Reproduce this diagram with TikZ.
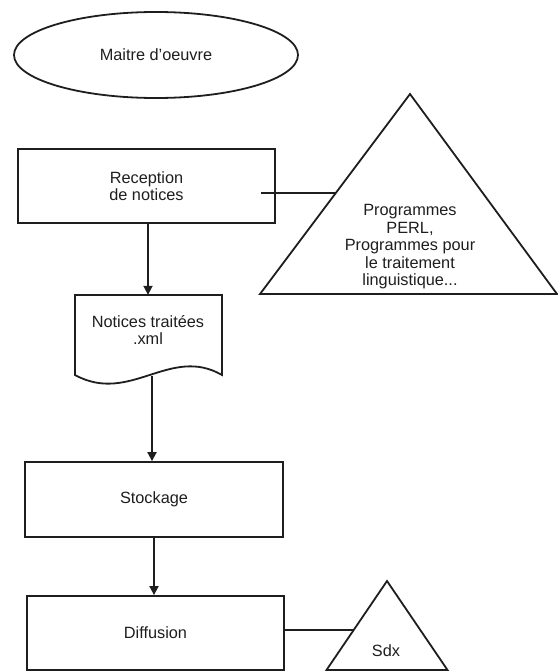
\documentclass[tikz,border=0pt]{standalone}
\usepackage{fontspec}
\setmainfont{Liberation Sans}
\usetikzlibrary{shapes.geometric,arrows.meta}
\definecolor{ink}{HTML}{1E1E1E}
\begin{document}
\begin{tikzpicture}[x=1pt,y=-1pt,
  every node/.style={font=\fontsize{16.3}{17.5}\selectfont, text=ink, align=center, inner sep=0pt},
  shapeline/.style={draw=ink, line width=1.8pt},
  procbox/.style={shapeline, rectangle, minimum width=257pt, minimum height=74pt},
  flowarrow/.style={draw=ink, line width=1.8pt, -{Triangle[length=9pt,width=9pt]}},
  plainline/.style={draw=ink, line width=1.8pt}]
\useasboundingbox (0,0) rectangle (557,672);
% ellipse
\node[shapeline, ellipse, minimum width=284pt, minimum height=86pt] (moe) at (156,55) {Maitre d'oeuvre};
% reception
\node[procbox] (rec) at (146.5,186) {Reception\\de notices};
% big triangle
\draw[shapeline, line join=miter] (410,94) -- (557,294) -- (260,294) -- cycle;
\node (tri1) at (410,247) {Programmes\\PERL,\\Programmes pour\\le traitement\\linguistique...};
\coordinate (t1L) at (335.75,193);
\draw[plainline, shorten <=-15pt] (rec.east |- t1L) -- (t1L);
% document
\draw[shapeline, line join=miter] (75,295) -- (222,295) -- (222,375)
  .. controls (170,345) and (130,405) .. (75,375) -- cycle;
\node[minimum width=147pt, minimum height=70pt] (doc) at (148,330) {Notices traitées\\.xml};
\coordinate (docb) at (152,376);
\draw[flowarrow] (rec.south) ++(1.5,0) coordinate (recs) -- (recs |- doc.north);
% stockage
\node[procbox, minimum width=258pt, minimum height=75pt] (sto) at (154,499.5) {Stockage};
\draw[flowarrow] (docb) -- (docb |- sto.north);
% diffusion
\node[procbox] (dif) at (155.5,633) {Diffusion};
\draw[flowarrow] (sto.south) -- (sto.south |- dif.north);
% small triangle
\draw[shapeline, line join=miter] (387,581) -- (447.5,670) -- (326.5,670) -- cycle;
\node (tri2) at (386,651) {Sdx};
\coordinate (t2L) at (353.7,630);
\draw[plainline] (dif.east |- t2L) -- (t2L);
\end{tikzpicture}
\end{document}
